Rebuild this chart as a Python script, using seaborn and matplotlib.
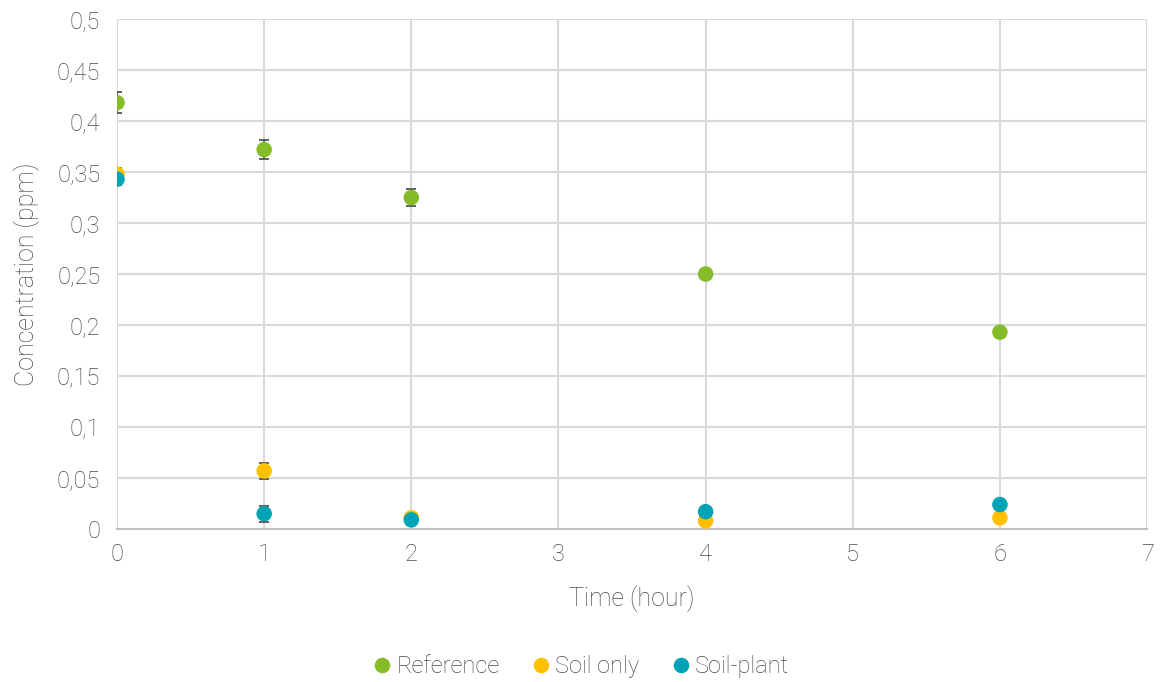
import matplotlib
matplotlib.use("Agg")
import matplotlib.pyplot as plt
from matplotlib.ticker import FuncFormatter, MultipleLocator
import seaborn as sns
import pandas as pd

# Sampling times (hours)
time_h = [0, 1, 2, 4, 6]

# Mean concentrations (ppm) per treatment
reference = [0.418, 0.372, 0.325, 0.250, 0.193]
soil_only = [0.348, 0.057, 0.011, 0.008, 0.011]
soil_plant = [0.343, 0.015, 0.009, 0.017, 0.024]

# Standard deviations (ppm)
reference_err = [0.010, 0.009, 0.008, 0.005, 0.003]
soil_only_err = [0.006, 0.008, 0.005, 0.002, 0.003]
soil_plant_err = [0.006, 0.008, 0.005, 0.002, 0.003]

series_names = ["Reference", "Soil only", "Soil-plant"]
palette = {"Reference": "#86BC2A", "Soil only": "#FFC000", "Soil-plant": "#00A4B4"}

rows = []
for name, vals, errs in zip(series_names,
                            [reference, soil_only, soil_plant],
                            [reference_err, soil_only_err, soil_plant_err]):
    for t, v, e in zip(time_h, vals, errs):
        rows.append({"Time": t, "Concentration": v, "err": e, "Series": name})
df = pd.DataFrame(rows)

sns.set_theme(style="white")
plt.rcParams["font.family"] = ["Roboto", "DejaVu Sans"]
plt.rcParams["font.weight"] = "light"
plt.rcParams["axes.labelweight"] = "light"
text_color = "#4A4A4A"

fig = plt.figure(figsize=(11.61, 6.82), dpi=100)
ax = fig.add_axes([0.1008, 0.2243, 0.8872, 0.7478])

# Error bars under the markers
for name in series_names:
    sub = df[df["Series"] == name]
    ax.errorbar(sub["Time"], sub["Concentration"], yerr=sub["err"],
                fmt="none", ecolor="#555555", elinewidth=1.3, capsize=3.5,
                capthick=1.3, zorder=2)

sns.scatterplot(data=df, x="Time", y="Concentration", hue="Series",
                hue_order=series_names, palette=palette, s=125,
                edgecolor="none", linewidth=0, ax=ax, zorder=3, legend=True)

ax.set_xlim(0, 7)
ax.set_ylim(0, 0.5)
ax.xaxis.set_major_locator(MultipleLocator(1))
ax.yaxis.set_major_locator(MultipleLocator(0.05))

def comma_fmt(v, pos):
    s = f"{v:.2f}".rstrip("0").rstrip(".")
    return s.replace(".", ",")

ax.yaxis.set_major_formatter(FuncFormatter(comma_fmt))
ax.xaxis.set_major_formatter(FuncFormatter(lambda v, p: f"{int(round(v))}"))

ax.grid(True, color="#D9D9D9", linewidth=1.5)
ax.set_axisbelow(True)
for side in ["top", "right", "left"]:
    ax.spines[side].set_visible(False)
ax.spines["bottom"].set_color("#BFBFBF")
ax.spines["bottom"].set_linewidth(1.5)

ax.tick_params(axis="both", colors=text_color, labelsize=17, length=0)
ax.tick_params(axis="x", pad=10)
ax.tick_params(axis="y", pad=12)
ax.set_xlabel("Time (hour)", fontsize=18, color=text_color, labelpad=14,
              fontweight="light")
ax.set_ylabel("Concentration (ppm)", fontsize=18, color=text_color, labelpad=12,
              fontweight="light")

handles, labels = ax.get_legend_handles_labels()
ax.legend_.remove()
fig.legend(handles, labels, loc="center", bbox_to_anchor=(0.5, 0.023),
           ncol=3, frameon=False, fontsize=17, labelcolor=text_color,
           handlelength=0.9, handletextpad=0.15, columnspacing=1.3,
           markerscale=1.0)

fig.savefig("out.png", dpi=100)
